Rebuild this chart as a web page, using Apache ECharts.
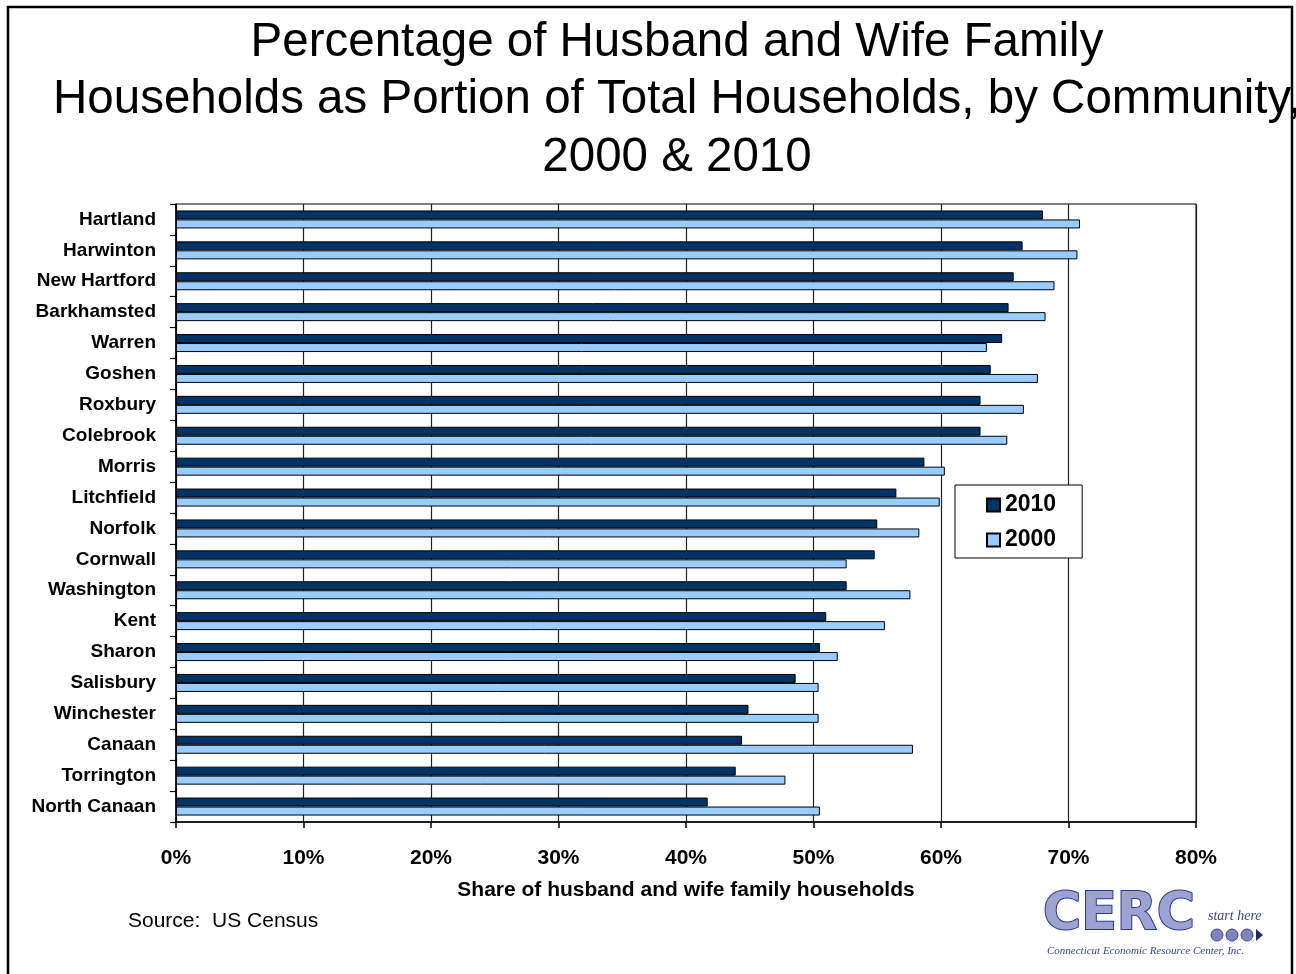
<!DOCTYPE html>
<html>
<head>
<meta charset="utf-8">
<script src="https://cdn.jsdelivr.net/npm/echarts@6/dist/echarts.min.js"></script>
<style>
html,body{margin:0;padding:0;background:#fff;}
#chart{width:1296px;height:974px;}
</style>
</head>
<body>
<div id="chart"></div>
<script>
const communities = ["Hartland","Harwinton","New Hartford","Barkhamsted","Warren","Goshen","Roxbury","Colebrook","Morris","Litchfield","Norfolk","Cornwall","Washington","Kent","Sharon","Salisbury","Winchester","Canaan","Torrington","North Canaan"];
const values2010 = [68.0,66.4,65.7,65.3,64.8,63.9,63.1,63.1,58.7,56.5,55.0,54.8,52.6,51.0,50.5,48.6,44.9,44.4,43.9,41.7];
const values2000 = [70.9,70.7,68.9,68.2,63.6,67.6,66.5,65.2,60.3,59.9,58.3,52.6,57.6,55.6,51.9,50.4,50.4,57.8,47.8,50.5];
const xTicks = [0,10,20,30,40,50,60,70,80];

const FONT = '"Liberation Sans", Arial, sans-serif';
const chart = echarts.init(document.getElementById('chart'));
chart.setOption({
  animation: false,
  backgroundColor: '#ffffff',
  grid: {left: 176, right: 100, top: 204, bottom: 152, show: true, borderColor: '#000', borderWidth: 1, containLabel: false},
  xAxis: {
    type: 'value', min: xTicks[0], max: xTicks[xTicks.length-1], interval: 10,
    axisLine: {show: true, lineStyle: {color: '#000', width: 1.5}},
    axisTick: {show: true, length: 6, lineStyle: {color: '#000', width: 1.5}},
    splitLine: {show: true, lineStyle: {color: '#222', width: 1.2}},
    axisLabel: {formatter: v => v + '%', color: '#000', fontFamily: FONT, fontWeight: 'bold', fontSize: 21, margin: 26},
    name: 'Share of husband and wife family households', nameLocation: 'middle', nameGap: 58,
    nameTextStyle: {color: '#000', fontFamily: FONT, fontWeight: 'bold', fontSize: 21}
  },
  yAxis: {
    type: 'category', data: communities, inverse: true,
    axisLine: {show: true, lineStyle: {color: '#000', width: 1.5}},
    axisTick: {show: true, length: 6, lineStyle: {color: '#000', width: 1.2}},
    axisLabel: {color: '#000', fontFamily: FONT, fontWeight: 'bold', fontSize: 19, margin: 20}
  },
  legend: {
    orient: 'vertical', left: 955, top: 485,
    data: ['2010','2000'],
    backgroundColor: '#fff', borderColor: '#000', borderWidth: 1,
    padding: [8, 26, 6, 31], itemGap: 11, itemWidth: 13, itemHeight: 13,
    textStyle: {color: '#000', fontFamily: FONT, fontWeight: 'bold', fontSize: 23, lineHeight: 24},
    icon: 'rect'
  },
  series: [
    {name: '2010', type: 'bar', data: values2010, barWidth: 9, barGap: '0%',
     itemStyle: {color: '#003366', borderColor: '#000', borderWidth: 1}},
    {name: '2000', type: 'bar', data: values2000, barWidth: 9, barGap: '0%',
     itemStyle: {color: '#99CCFF', borderColor: '#000', borderWidth: 1}}
  ],
  graphic: [
    {type: 'rect', shape: {x: 8, y: 7, width: 1284, height: 1000}, style: {fill: 'none', stroke: '#000', lineWidth: 2.5}, silent: true},
    {type: 'text', x: 677, y: 100, style: {
      text: 'Percentage of Husband and Wife Family\nHouseholds as Portion of Total Households, by Community,\n2000 & 2010',
      fill: '#000', font: '47.5px ' + FONT, textAlign: 'center', textVerticalAlign: 'middle', lineHeight: 57.5}},
    {type: 'text', x: 128, y: 921, style: {text: 'Source:  US Census', fill: '#000', font: '21px ' + FONT, textVerticalAlign: 'middle'}},
    {type: 'group', left: 1042, top: 888, children: [
      {type: 'text', x: 0, y: 0, style: {text: 'CERC', font: 'bold 52px "DejaVu Sans", sans-serif',
        fill: '#9ca2d2', stroke: '#2f3888', lineWidth: 2}},
      {type: 'text', x: 165, y: 20, style: {text: 'start here', font: 'italic 14px "Liberation Serif", serif', fill: '#3c4490'}},
      {type: 'circle', shape: {cx: 174, cy: 46, r: 6}, style: {fill: '#7d84c0', stroke: '#3c4490', lineWidth: 1}},
      {type: 'circle', shape: {cx: 189, cy: 46, r: 6}, style: {fill: '#7d84c0', stroke: '#3c4490', lineWidth: 1}},
      {type: 'circle', shape: {cx: 204, cy: 46, r: 6}, style: {fill: '#7d84c0', stroke: '#3c4490', lineWidth: 1}},
      {type: 'polygon', shape: {points: [[213,40],[220,46],[213,52]]}, style: {fill: '#1f2a70'}},
      {type: 'text', x: 4, y: 57, style: {text: 'Connecticut Economic Resource Center, Inc.', font: 'italic 11px "Liberation Serif", serif', fill: '#3c4490'}}
    ]}
  ]
});
</script>
</body>
</html>
